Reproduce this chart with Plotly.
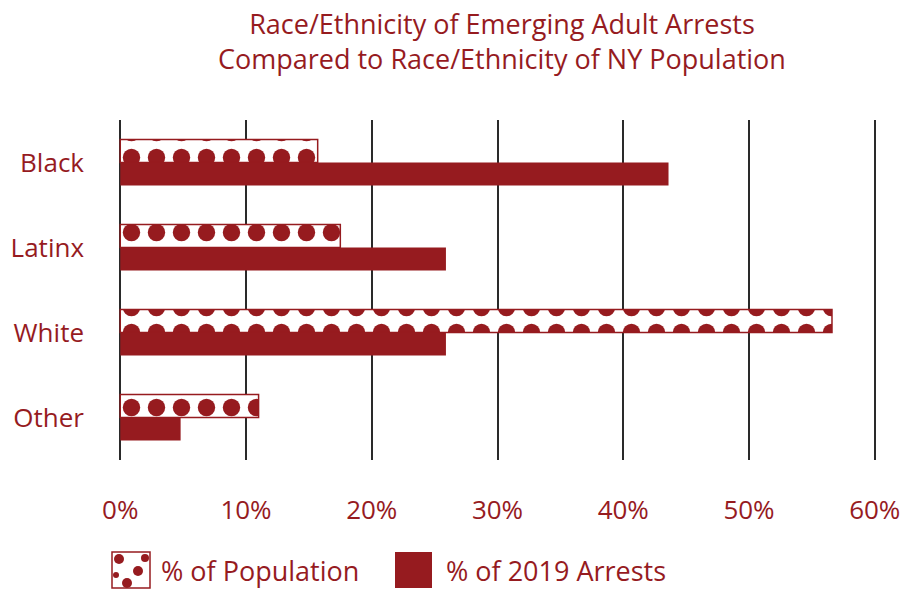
import plotly.graph_objects as go

categories = ["Black", "Latinx", "White", "Other"]
population = [15.7, 17.5, 56.6, 11.0]
arrests = [43.6, 25.9, 25.9, 4.8]
tick_vals = [0, 10, 20, 30, 40, 50, 60]
tick_text = ["0%", "10%", "20%", "30%", "40%", "50%", "60%"]

RED = "#961B1F"
FONT = "Open Sans"

W, H = 901, 589
L, R, T, B = 119, 25, 120, 129
PW, PH = W - L - R, H - T - B
X0, X1 = -0.1, 60.1

def px(x):
    return (x - L) / PW

def py(y):
    return (H - B - y) / PH

fig = go.Figure()
fig.add_trace(go.Bar(
    y=categories, x=population, orientation="h", name="% of Population",
    marker=dict(color="white", line=dict(color=RED, width=1.5),
                pattern=dict(shape=".", fgcolor=RED, bgcolor="white",
                             size=25, solidity=0.38, fillmode="replace")),
    showlegend=False,
))
fig.add_trace(go.Bar(
    y=categories, x=arrests, orientation="h", name="% of 2019 Arrests",
    marker=dict(color=RED, line=dict(color=RED, width=0)),
    showlegend=False,
))

shapes = []
annotations = []
# legend: pattern swatch
shapes.append(dict(type="rect", xref="paper", yref="paper",
                   x0=px(112), x1=px(150), y0=py(588), y1=py(552),
                   line=dict(color=RED, width=1.5), fillcolor="white"))
for cx, cy, r in [(119, 559, 5), (145, 558, 4), (138, 571, 5), (116, 575, 3), (127, 583, 5)]:
    shapes.append(dict(type="circle", xref="paper", yref="paper",
                       x0=px(cx - r), x1=px(cx + r), y0=py(cy + r), y1=py(cy - r),
                       line=dict(width=0), fillcolor=RED))
shapes.append(dict(type="rect", xref="paper", yref="paper",
                   x0=px(395), x1=px(432), y0=py(588), y1=py(552),
                   line=dict(width=0), fillcolor=RED))
annotations.append(dict(text="% of Population", xref="paper", yref="paper",
                        x=px(159), y=py(570), xanchor="left", yanchor="middle",
                        showarrow=False, font=dict(size=27, color=RED, family=FONT)))
annotations.append(dict(text="% of 2019 Arrests", xref="paper", yref="paper",
                        x=px(444), y=py(570), xanchor="left", yanchor="middle",
                        showarrow=False, font=dict(size=27, color=RED, family=FONT)))
annotations.append(dict(text="Race/Ethnicity of Emerging Adult Arrests<br>Compared to Race/Ethnicity of NY Population",
                        xref="paper", yref="paper", x=px(502), y=py(41.5),
                        xanchor="center", yanchor="middle", showarrow=False,
                        font=dict(size=27, color=RED, family=FONT)))

fig.update_layout(
    width=W, height=H,
    margin=dict(l=L, r=R, t=T, b=B, autoexpand=False),
    paper_bgcolor="white", plot_bgcolor="white",
    barmode="group", bargap=0.46, bargroupgap=0,
    xaxis=dict(range=[X0, X1], tickvals=tick_vals, ticktext=tick_text,
               showgrid=True, gridcolor="#2a2a2a", gridwidth=1.8,
               zeroline=False, showline=False, ticks="", automargin=False,
               ticklabelstandoff=32,
               tickfont=dict(size=26, color=RED, family=FONT), fixedrange=True),
    yaxis=dict(autorange="reversed", showgrid=False, ticks="", automargin=False,
               ticklabelstandoff=34,
               tickfont=dict(size=26, color=RED, family=FONT)),
    shapes=shapes, annotations=annotations,
)

fig.write_html("out.html", config={"displayModeBar": False},
               post_script="document.body.style.margin='0';document.body.style.padding='0';document.body.style.overflow='hidden';")
